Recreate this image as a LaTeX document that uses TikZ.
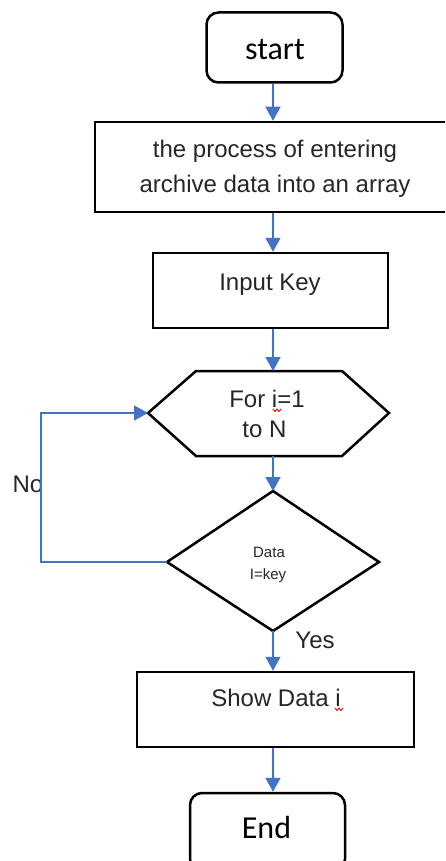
\documentclass[tikz,border=0pt]{standalone}
\usepackage{fontspec}
\setmainfont{Liberation Sans}
\newfontfamily\calib{Carlito}
\usetikzlibrary{arrows.meta}
\definecolor{flowblue}{HTML}{4472C4}
\definecolor{inkgray}{HTML}{262626}
\tikzset{
  x=1pt, y=-1pt,
  stepbox/.style={draw=black, line width=2.5pt, fill=white, inner sep=0pt, rectangle},
  termbox/.style={stepbox, rounded corners=12pt},
  shapeline/.style={draw=black, line width=2.5pt, line join=miter},
  txt/.style={anchor=base, inner sep=0pt, text=inkgray, font=\fontsize{24}{28}\selectfont},
  smalltxt/.style={txt, font=\fontsize{15}{18}\selectfont},
  termtxt/.style={txt, text=black, font=\calib\fontsize{32}{36}\selectfont},
  arr/.style={draw=flowblue, line width=1.5pt, -{Triangle[width=15pt,length=14pt]}},
  squiggle/.style={draw=red, line width=0.9pt}
}
\begin{document}
\begin{tikzpicture}
\useasboundingbox (0,0) rectangle (445,861);
\clip (0,0) rectangle (445,861);
\fill[white] (0,0) rectangle (445,861);

% vertical spine of the flow
\coordinate (spine) at (273,0);

% terminals and process boxes
\node[termbox, minimum width=136pt, minimum height=70pt] (start) at (274.5,47.5) {};
\node[stepbox, minimum width=356pt, minimum height=90pt] (proc) at (273,167) {};
\node[stepbox, minimum width=235pt, minimum height=75pt] (input) at (270.5,290.5) {};
\node[stepbox, minimum width=277pt, minimum height=75pt] (show) at (275.5,709.5) {};
\node[termbox, minimum width=155pt, minimum height=78pt] (end) at (267.5,832) {};

% loop hexagon
\coordinate (hexL) at (148,413);
\coordinate (hexTL) at (196,371);
\coordinate (hexTR) at (342,371);
\coordinate (hexR) at (389,413);
\coordinate (hexBR) at (342,456);
\coordinate (hexBL) at (196,456);
\coordinate (hexT) at (273,371);
\coordinate (hexB) at (273,456);
\draw[shapeline, fill=white] (hexL) -- (hexTL) -- (hexTR) -- (hexR) -- (hexBR) -- (hexBL) -- cycle;

% decision diamond
\coordinate (decT) at (273,491);
\coordinate (decL) at (167,562);
\coordinate (decR) at (379,562);
\coordinate (decB) at (273,631);
\draw[shapeline, fill=white] (decT) -- (decR) -- (decB) -- (decL) -- cycle;

% texts
\node[termtxt] (tstart) at (275,60) {start};
\node[txt] (tproc1) at (275,158) {the process of entering};
\node[txt] (tproc2) at (275,193) {archive data into an array};
\node[txt] (tinput) at (270,290) {Input Key};
\node[txt] (thex1) at (267,407) {For i=1};
\node[txt] (thex2) at (264.5,437) {to N};
\node[smalltxt] (tdec1) at (269,557) {Data};
\node[smalltxt] (tdec2) at (268,579) {I=key};
\node[txt] (tshow) at (276,706) {Show Data i};
\node[termtxt] (tend) at (266.5,838) {End};
\node[txt] (tno) at (28,492) {No};
\node[txt] (tyes) at (315,648) {Yes};

% spell-check marks under the loop variable
\draw[squiggle] (273,409) -- (275,411.5) -- (277,409) -- (279,411.5) -- (281,409);
\draw[squiggle] (335,708) -- (337,710.5) -- (339,708) -- (341,710.5) -- (343,708);

% connectors
\draw[arr] (start.south -| spine) -- (proc.north -| spine);
\draw[arr] (proc.south -| spine) -- (input.north -| spine);
\draw[arr] (input.south -| spine) -- (hexT);
\draw[arr] (hexB) -- (decT);
\draw[arr] (decB) -- (show.north -| spine);
\draw[arr] (show.south -| spine) -- (end.north -| spine);
\draw[arr] (decL) -- (41,562) -- (41,413) -- (hexL);
\end{tikzpicture}
\end{document}
